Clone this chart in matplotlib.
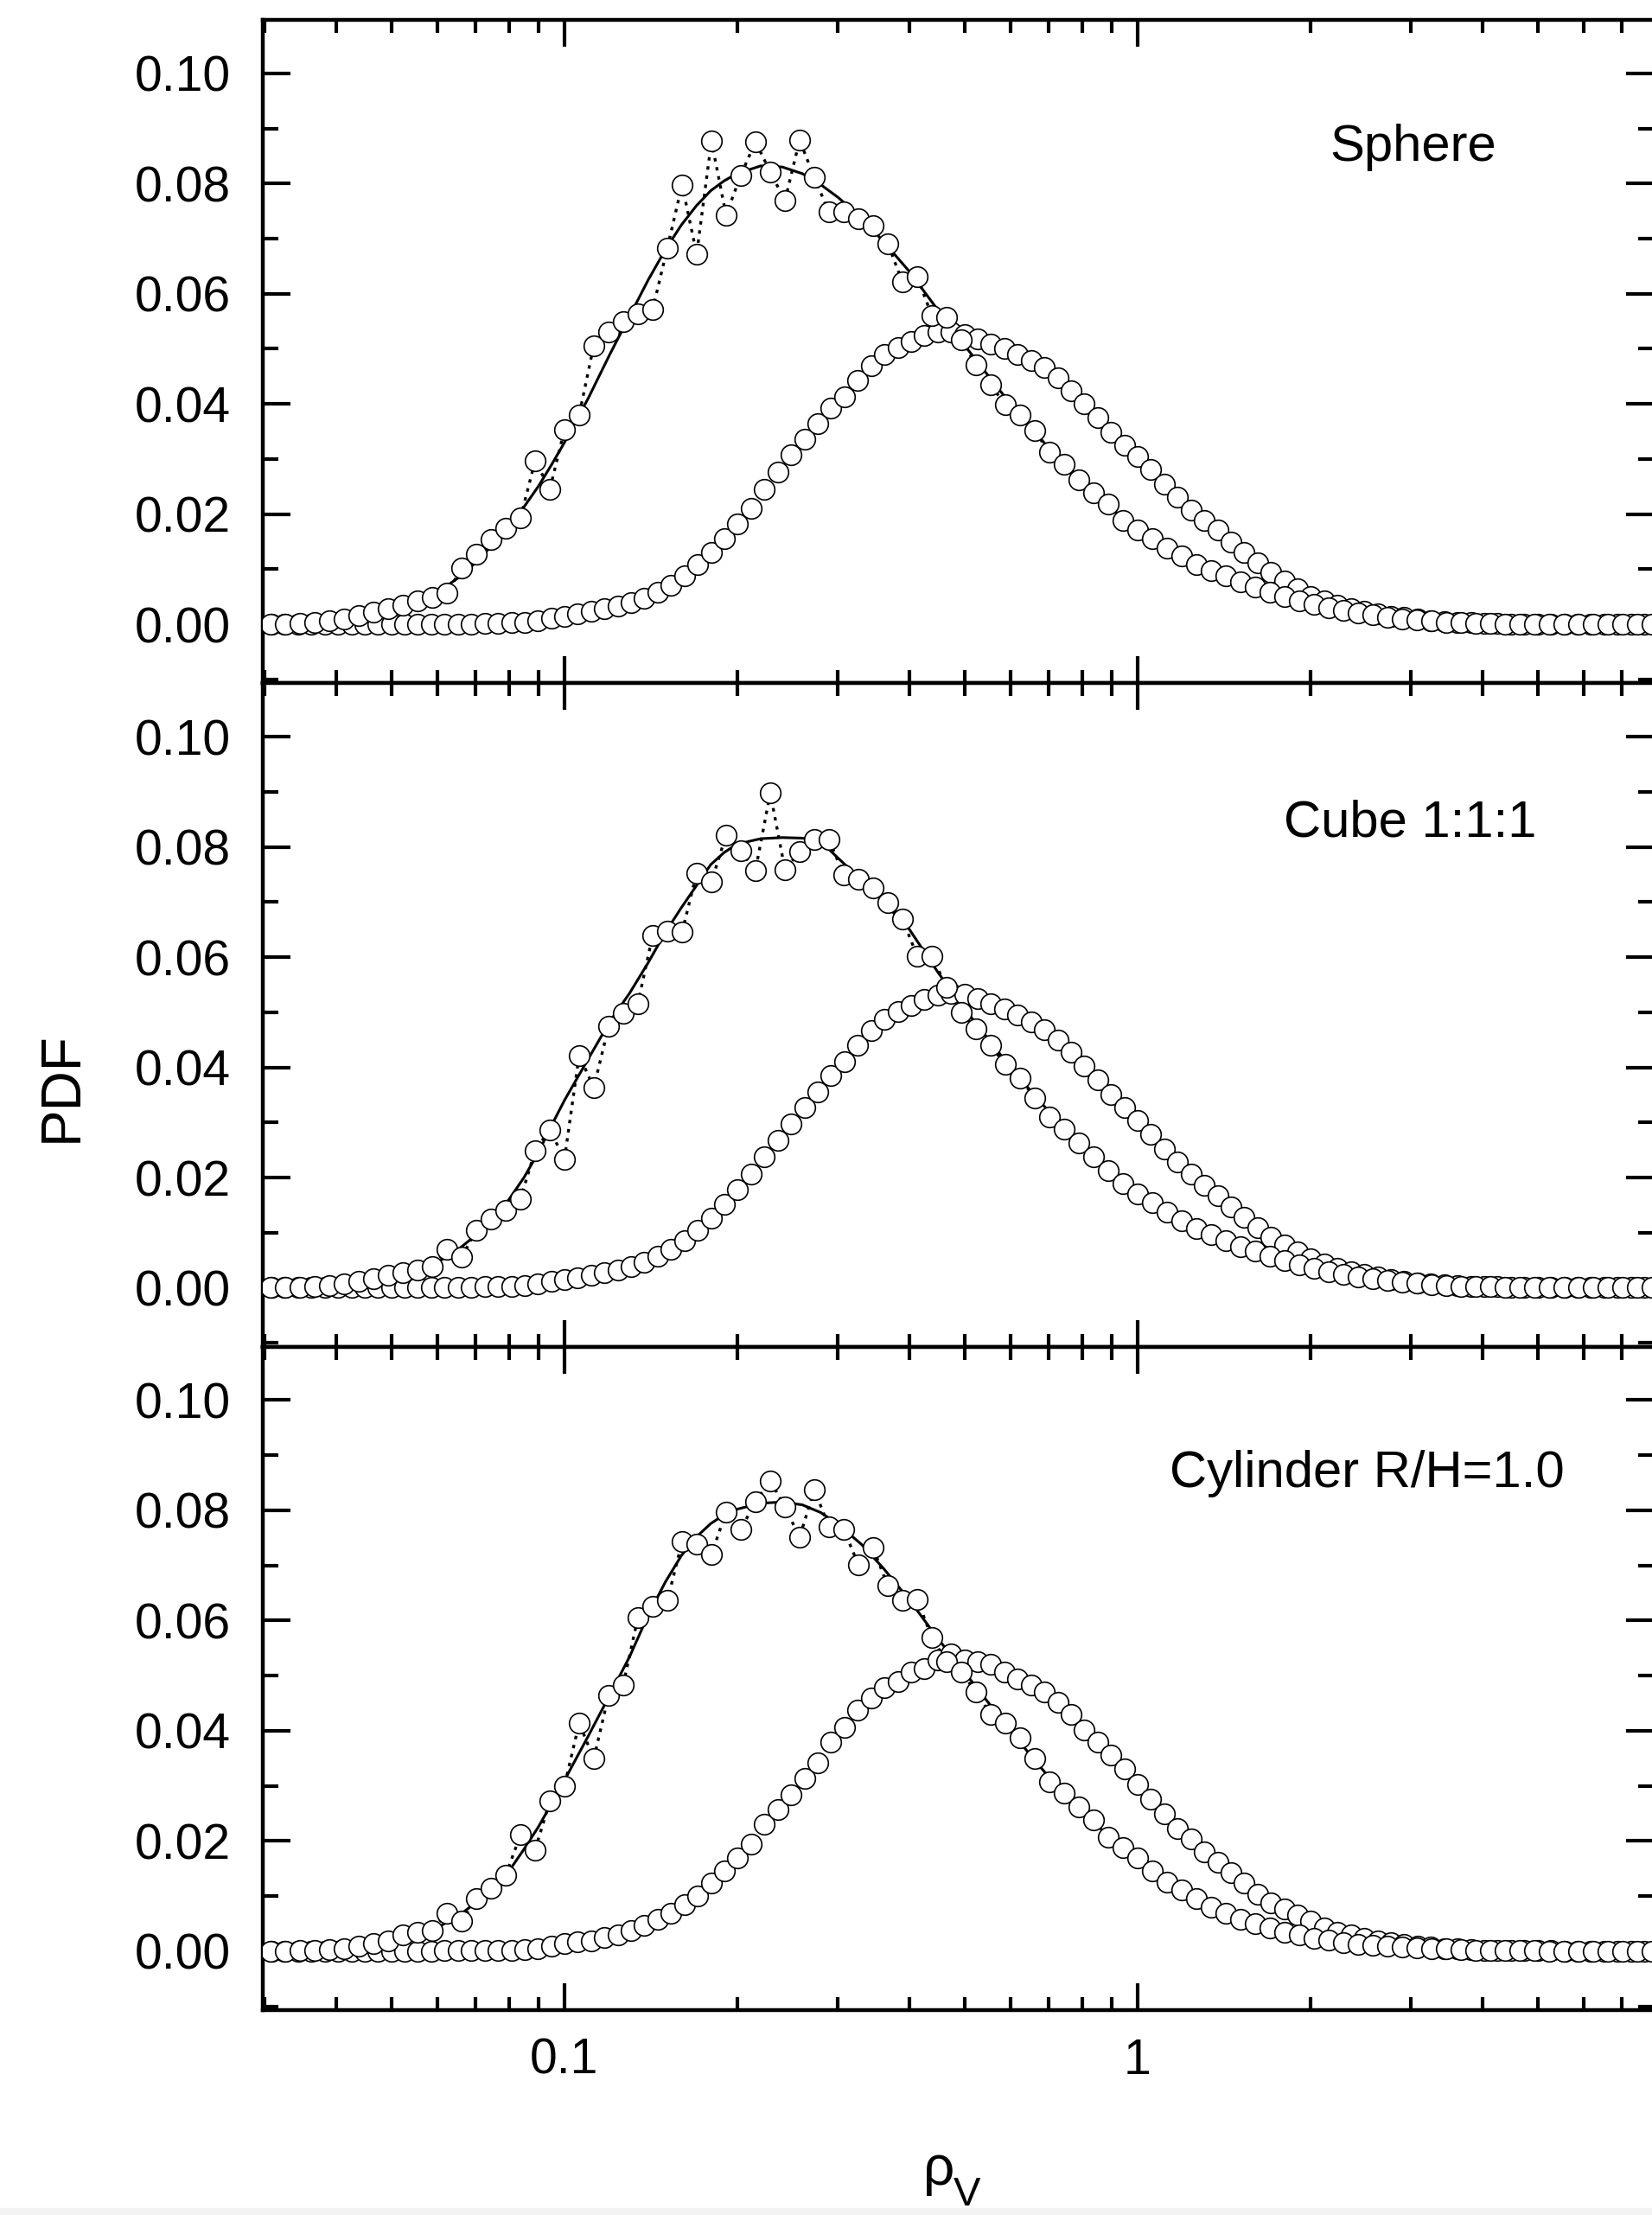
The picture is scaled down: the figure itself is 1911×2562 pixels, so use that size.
import matplotlib
matplotlib.use('Agg')
import matplotlib.pyplot as plt
from matplotlib.ticker import FixedLocator, FixedFormatter, LogLocator, NullFormatter, MultipleLocator
from matplotlib.patches import Rectangle

plt.rcParams['font.family'] = ['Liberation Sans', 'DejaVu Sans']

# bin centres of the narrow (noisy) distribution
XA = [0.0307, 0.0326, 0.0346, 0.0367, 0.0389, 0.0412, 0.0438, 0.0464, 0.0492, 0.0522,
      0.0554, 0.0588, 0.0624, 0.0662, 0.0702, 0.0744, 0.0790, 0.0838, 0.0889, 0.0943,
      0.1000, 0.1061, 0.1125, 0.1194, 0.1266, 0.1343, 0.1425, 0.1512, 0.1604, 0.1701,
      0.1805, 0.1914, 0.2031, 0.2154, 0.2286, 0.2425, 0.2572, 0.2728, 0.2894, 0.3070,
      0.3257, 0.3455, 0.3665, 0.3888, 0.4125, 0.4376, 0.4642, 0.4924, 0.5223, 0.5541,
      0.5878, 0.6236, 0.6615, 0.7017, 0.7444, 0.7897, 0.8377, 0.8886, 0.9427, 1.000,
      1.061, 1.125, 1.194, 1.266, 1.343, 1.425, 1.512, 1.604, 1.701, 1.805,
      1.914, 2.031, 2.154, 2.286, 2.425, 2.572, 2.728, 2.894, 3.070, 3.257,
      3.455, 3.665, 3.888, 4.125, 4.376, 4.642, 4.924, 5.223, 5.541, 5.878,
      6.236, 6.615, 7.017, 7.444, 7.897]

# bin centres of the broad distribution
XB = [0.0308, 0.0325, 0.0343, 0.0362, 0.0382, 0.0403, 0.0425, 0.0448, 0.0473, 0.0499,
      0.0526, 0.0555, 0.0586, 0.0618, 0.0652, 0.0688, 0.0726, 0.0766, 0.0808, 0.0852,
      0.0899, 0.0948, 0.1000, 0.1055, 0.1113, 0.1174, 0.1239, 0.1307, 0.1379, 0.1455,
      0.1535, 0.1619, 0.1709, 0.1803, 0.1902, 0.2006, 0.2117, 0.2233, 0.2356, 0.2486,
      0.2623, 0.2767, 0.2919, 0.3080, 0.3249, 0.3428, 0.3617, 0.3816, 0.4026, 0.4247,
      0.4481, 0.4727, 0.4987, 0.5261, 0.5551, 0.5857, 0.6179, 0.6519, 0.6878, 0.7256,
      0.7655, 0.8077, 0.8521, 0.8990, 0.9485, 1.000, 1.055, 1.113, 1.174, 1.239,
      1.307, 1.379, 1.455, 1.535, 1.619, 1.709, 1.803, 1.902, 2.006, 2.117,
      2.233, 2.356, 2.486, 2.623, 2.767, 2.919, 3.080, 3.249, 3.428, 3.617,
      3.816, 4.026, 4.247, 4.481, 4.727, 4.987, 5.262, 5.551, 5.857, 6.179,
      6.519, 6.878, 7.256, 7.655, 8.077]

A_SPHERE = [0.0000, 0.0001, 0.0002, 0.0004, 0.0007, 0.0010, 0.0016, 0.0022, 0.0028, 0.0035,
            0.0042, 0.0049, 0.0057, 0.0102, 0.0128, 0.0154, 0.0174, 0.0193, 0.0297, 0.0245,
            0.0353, 0.0380, 0.0506, 0.0531, 0.0550, 0.0563, 0.0571, 0.0683, 0.0798, 0.0672,
            0.0877, 0.0743, 0.0815, 0.0876, 0.0821, 0.0769, 0.0879, 0.0811, 0.0748, 0.0748,
            0.0736, 0.0724, 0.0691, 0.0621, 0.0631, 0.0560, 0.0558, 0.0516, 0.0471, 0.0435,
            0.0398, 0.0380, 0.0351, 0.0312, 0.0291, 0.0262, 0.0239, 0.0218, 0.0189, 0.0171,
            0.0155, 0.0139, 0.0124, 0.0108, 0.0098, 0.0088, 0.0077, 0.0067, 0.0058, 0.0050,
            0.0043, 0.0036, 0.0030, 0.0025, 0.0021, 0.0017, 0.0013, 0.0010, 0.0008, 0.0006,
            0.0004, 0.0003, 0.0002, 0.0002, 0.0001, 0.0001, 0.0001, 0.0000, 0.0000, 0.0000,
            0.0000, 0.0000, 0.0000, 0.0000, 0.0000]
A_CUBE = [0.0000, 0.0001, 0.0001, 0.0002, 0.0004, 0.0007, 0.0011, 0.0016, 0.0022, 0.0027,
          0.0032, 0.0038, 0.0070, 0.0056, 0.0104, 0.0124, 0.0141, 0.0161, 0.0249, 0.0287,
          0.0233, 0.0422, 0.0363, 0.0474, 0.0498, 0.0516, 0.0639, 0.0647, 0.0645, 0.0753,
          0.0737, 0.0821, 0.0793, 0.0757, 0.0898, 0.0759, 0.0791, 0.0813, 0.0814, 0.0749,
          0.0741, 0.0725, 0.0699, 0.0669, 0.0602, 0.0602, 0.0545, 0.0500, 0.0470, 0.0440,
          0.0405, 0.0380, 0.0345, 0.0310, 0.0288, 0.0262, 0.0238, 0.0212, 0.0189, 0.0170,
          0.0154, 0.0138, 0.0122, 0.0107, 0.0096, 0.0086, 0.0075, 0.0066, 0.0057, 0.0049,
          0.0042, 0.0035, 0.0029, 0.0024, 0.0020, 0.0016, 0.0013, 0.0010, 0.0008, 0.0006,
          0.0004, 0.0003, 0.0002, 0.0002, 0.0001, 0.0001, 0.0001, 0.0000, 0.0000, 0.0000,
          0.0000, 0.0000, 0.0000, 0.0000, 0.0000]
A_CYL = [0.0000, 0.0000, 0.0001, 0.0002, 0.0003, 0.0005, 0.0009, 0.0014, 0.0019, 0.0030,
         0.0034, 0.0038, 0.0069, 0.0054, 0.0096, 0.0115, 0.0138, 0.0211, 0.0184, 0.0272,
         0.0300, 0.0414, 0.0349, 0.0464, 0.0483, 0.0605, 0.0625, 0.0636, 0.0743, 0.0739,
         0.0720, 0.0797, 0.0765, 0.0816, 0.0854, 0.0806, 0.0751, 0.0838, 0.0770, 0.0766,
         0.0701, 0.0732, 0.0663, 0.0636, 0.0638, 0.0569, 0.0525, 0.0506, 0.0471, 0.0429,
         0.0414, 0.0387, 0.0349, 0.0307, 0.0287, 0.0261, 0.0238, 0.0207, 0.0188, 0.0169,
         0.0146, 0.0126, 0.0111, 0.0096, 0.0080, 0.0069, 0.0057, 0.0050, 0.0042, 0.0034,
         0.0029, 0.0024, 0.0020, 0.0016, 0.0013, 0.0011, 0.0009, 0.0007, 0.0006, 0.0005,
         0.0004, 0.0003, 0.0002, 0.0002, 0.0001, 0.0001, 0.0001, 0.0000, 0.0000, 0.0000,
         0.0000, 0.0000, 0.0000, 0.0000, 0.0000]

B_SPHERE = [0.0000, 0.0000, 0.0000, 0.0000, 0.0000, 0.0000, 0.0000, 0.0000, 0.0000, 0.0000,
            0.0000, 0.0000, 0.0000, 0.0001, 0.0001, 0.0001, 0.0002, 0.0002, 0.0003, 0.0004,
            0.0007, 0.0011, 0.0015, 0.0019, 0.0023, 0.0028, 0.0033, 0.0040, 0.0048, 0.0058,
            0.0071, 0.0088, 0.0108, 0.0130, 0.0155, 0.0183, 0.0211, 0.0245, 0.0276, 0.0307,
            0.0336, 0.0364, 0.0393, 0.0413, 0.0443, 0.0469, 0.0490, 0.0503, 0.0513, 0.0524,
            0.0530, 0.0530, 0.0526, 0.0518, 0.0508, 0.0500, 0.0490, 0.0479, 0.0466, 0.0448,
            0.0424, 0.0401, 0.0375, 0.0349, 0.0325, 0.0304, 0.0281, 0.0254, 0.0231, 0.0207,
            0.0189, 0.0171, 0.0149, 0.0130, 0.0112, 0.0094, 0.0078, 0.0064, 0.0051, 0.0042,
            0.0035, 0.0029, 0.0024, 0.0019, 0.0015, 0.0012, 0.0009, 0.0007, 0.0005, 0.0004,
            0.0003, 0.0002, 0.0002, 0.0001, 0.0001, 0.0001, 0.0001, 0.0000, 0.0000, 0.0000,
            0.0000, 0.0000, 0.0000, 0.0000, 0.0000]
B_CUBE = [0.0000, 0.0000, 0.0000, 0.0000, 0.0000, 0.0000, 0.0000, 0.0000, 0.0000, 0.0000,
          0.0000, 0.0000, 0.0000, 0.0001, 0.0001, 0.0001, 0.0002, 0.0002, 0.0003, 0.0004,
          0.0007, 0.0011, 0.0015, 0.0018, 0.0022, 0.0027, 0.0032, 0.0039, 0.0047, 0.0057,
          0.0070, 0.0086, 0.0105, 0.0127, 0.0152, 0.0178, 0.0206, 0.0238, 0.0268, 0.0298,
          0.0327, 0.0355, 0.0385, 0.0410, 0.0440, 0.0466, 0.0487, 0.0502, 0.0513, 0.0523,
          0.0531, 0.0535, 0.0532, 0.0525, 0.0516, 0.0506, 0.0495, 0.0483, 0.0469, 0.0450,
          0.0427, 0.0402, 0.0377, 0.0351, 0.0327, 0.0303, 0.0279, 0.0252, 0.0228, 0.0206,
          0.0186, 0.0167, 0.0147, 0.0128, 0.0109, 0.0092, 0.0078, 0.0065, 0.0053, 0.0043,
          0.0035, 0.0029, 0.0024, 0.0019, 0.0015, 0.0012, 0.0009, 0.0007, 0.0005, 0.0004,
          0.0003, 0.0002, 0.0002, 0.0001, 0.0001, 0.0001, 0.0001, 0.0000, 0.0000, 0.0000,
          0.0000, 0.0000, 0.0000, 0.0000, 0.0000]
B_CYL = [0.0000, 0.0000, 0.0000, 0.0000, 0.0000, 0.0000, 0.0000, 0.0000, 0.0000, 0.0000,
         0.0000, 0.0000, 0.0000, 0.0001, 0.0001, 0.0001, 0.0001, 0.0002, 0.0002, 0.0003,
         0.0004, 0.0009, 0.0014, 0.0017, 0.0019, 0.0025, 0.0029, 0.0038, 0.0046, 0.0057,
         0.0069, 0.0084, 0.0100, 0.0123, 0.0146, 0.0169, 0.0195, 0.0230, 0.0257, 0.0284,
         0.0314, 0.0341, 0.0379, 0.0406, 0.0438, 0.0460, 0.0479, 0.0490, 0.0506, 0.0513,
         0.0529, 0.0540, 0.0529, 0.0525, 0.0521, 0.0506, 0.0494, 0.0483, 0.0471, 0.0452,
         0.0429, 0.0402, 0.0379, 0.0356, 0.0330, 0.0303, 0.0276, 0.0249, 0.0222, 0.0203,
         0.0180, 0.0161, 0.0142, 0.0123, 0.0103, 0.0088, 0.0077, 0.0065, 0.0054, 0.0042,
         0.0035, 0.0029, 0.0024, 0.0019, 0.0015, 0.0012, 0.0009, 0.0007, 0.0005, 0.0004,
         0.0003, 0.0002, 0.0002, 0.0001, 0.0001, 0.0001, 0.0001, 0.0000, 0.0000, 0.0000,
         0.0000, 0.0000, 0.0000, 0.0000, 0.0000]

# smooth fit through the noisy points
FX = [0.03, 0.035, 0.04, 0.045, 0.05, 0.055, 0.06, 0.065, 0.07, 0.075,
      0.08, 0.085, 0.09, 0.095, 0.1, 0.11, 0.12, 0.13, 0.14, 0.15,
      0.16, 0.17, 0.18, 0.19, 0.2, 0.22, 0.24, 0.26, 0.28, 0.3,
      0.33, 0.36, 0.4, 0.45, 0.5, 0.55, 0.6, 0.65, 0.7, 0.8,
      0.9, 1.0, 1.1, 1.2, 1.4, 1.6, 1.8, 2.0, 2.5, 3.0,
      4.0, 5.0, 6.0, 8.0]
FIT_SPHERE = [0.0000, 0.0002, 0.0006, 0.0014, 0.0026, 0.0040, 0.0058, 0.0083, 0.0112, 0.0145,
              0.0178, 0.0213, 0.0250, 0.0290, 0.0330, 0.0410, 0.0490, 0.0560, 0.0625, 0.0680,
              0.0725, 0.0760, 0.0787, 0.0805, 0.0818, 0.0832, 0.0830, 0.0818, 0.0798, 0.0775,
              0.0738, 0.0695, 0.0640, 0.0568, 0.0505, 0.0450, 0.0400, 0.0358, 0.0320, 0.0258,
              0.0210, 0.0172, 0.0142, 0.0118, 0.0085, 0.0063, 0.0048, 0.0037, 0.0019, 0.0010,
              0.0003, 0.0001, 0.0000, 0.0000]
FIT_CUBE = [0.0000, 0.0001, 0.0004, 0.0009, 0.0018, 0.0030, 0.0046, 0.0068, 0.0095, 0.0125,
            0.0160, 0.0200, 0.0245, 0.0295, 0.0340, 0.0415, 0.0483, 0.0535, 0.0590, 0.0645,
            0.0690, 0.0730, 0.0768, 0.0790, 0.0805, 0.0815, 0.0817, 0.0816, 0.0810, 0.0780,
            0.0740, 0.0700, 0.0650, 0.0570, 0.0505, 0.0450, 0.0400, 0.0358, 0.0320, 0.0258,
            0.0210, 0.0172, 0.0142, 0.0118, 0.0085, 0.0063, 0.0048, 0.0037, 0.0019, 0.0010,
            0.0003, 0.0001, 0.0000, 0.0000]
FIT_CYL = [0.0000, 0.0001, 0.0003, 0.0007, 0.0015, 0.0027, 0.0043, 0.0062, 0.0088, 0.0115,
           0.0145, 0.0185, 0.0225, 0.0268, 0.0310, 0.0390, 0.0465, 0.0535, 0.0610, 0.0670,
           0.0718, 0.0752, 0.0776, 0.0792, 0.0802, 0.0813, 0.0815, 0.0810, 0.0796, 0.0775,
           0.0738, 0.0695, 0.0637, 0.0565, 0.0505, 0.0450, 0.0400, 0.0356, 0.0316, 0.0252,
           0.0205, 0.0168, 0.0138, 0.0113, 0.0080, 0.0058, 0.0043, 0.0032, 0.0016, 0.0008,
           0.0002, 0.0001, 0.0000, 0.0000]

LABELS = ['Sphere', 'Cube 1:1:1', 'Cylinder R/H=1.0']
LABEL_POS = [(0.827, 0.808), (0.825, 0.789), (0.794, 0.808)]
A_ALL = [A_SPHERE, A_CUBE, A_CYL]
B_ALL = [B_SPHERE, B_CUBE, B_CYL]
FIT_ALL = [FIT_SPHERE, FIT_CUBE, FIT_CYL]

YTICKS = [0.00, 0.02, 0.04, 0.06, 0.08, 0.10]
YTICKLABELS = ['0.00', '0.02', '0.04', '0.06', '0.08', '0.10']
XTICKS = [0.1, 1]
XTICKLABELS = ['0.1', '1']

W, H = 1911, 2562
fig = plt.figure(figsize=(W / 100, H / 100), dpi=100)
left = 304 / W
right = 1913 / W
top = 1 - 23 / H
bottom = 1 - 2325 / H
ph = (top - bottom) / 3

mk = dict(marker='o', ms=17, mfc='white', mec='black', mew=1.2, ls='none', zorder=3)

for i in range(3):
    ax = fig.add_axes([left, top - (i + 1) * ph, right - left, ph])
    ax.set_xscale('log')
    ax.plot(FX, FIT_ALL[i], '-', color='black', lw=2.2, zorder=2)
    ax.plot(XA, A_ALL[i], color='black', lw=2.4, ls=(0, (1.2, 2.0)), zorder=2)
    ax.plot(XB, B_ALL[i], **mk)
    ax.plot(XA, A_ALL[i], **mk)

    ax.set_xlim(0.02977, 7.95)
    ax.set_ylim(-0.0107, 0.1097)
    ax.set_axisbelow(False)

    ax.xaxis.set_major_locator(FixedLocator(XTICKS))
    ax.xaxis.set_major_formatter(FixedFormatter(XTICKLABELS))
    ax.xaxis.set_minor_locator(LogLocator(base=10, subs=range(2, 10), numticks=20))
    ax.xaxis.set_minor_formatter(NullFormatter())
    ax.yaxis.set_major_locator(FixedLocator(YTICKS))
    ax.yaxis.set_major_formatter(FixedFormatter(YTICKLABELS))
    ax.yaxis.set_minor_locator(MultipleLocator(0.01))

    ax.tick_params(which='both', direction='in', top=True, right=True, width=3)
    ax.tick_params(axis='x', which='major', length=22, labelsize=41, pad=23)
    ax.tick_params(axis='x', which='minor', length=11)
    ax.tick_params(axis='y', which='major', length=23, labelsize=41, pad=27)
    ax.tick_params(axis='y', which='minor', length=13)
    if i < 2:
        ax.tick_params(axis='x', labelbottom=False)
    for s in ax.spines.values():
        s.set_linewidth(3.2)

    ax.text(LABEL_POS[i][0], LABEL_POS[i][1], LABELS[i], transform=ax.transAxes,
            ha='center', va='center', fontsize=43)

fig.text(72 / W, 1 - 1257 / H, 'PDF', rotation=90, ha='center', va='center', fontsize=46)
fig.text(1086 / W, (H - 2527) / H, '\u03c1', ha='center', va='baseline', fontsize=46)
fig.text(1103 / W, (H - 2551) / H, 'V', ha='left', va='baseline', fontsize=34)

fig.patches.append(Rectangle((0, 0), 1, 8 / H, transform=fig.transFigure,
                             color='#f3f3f3', zorder=0))

fig.savefig('out.png', dpi=100)
